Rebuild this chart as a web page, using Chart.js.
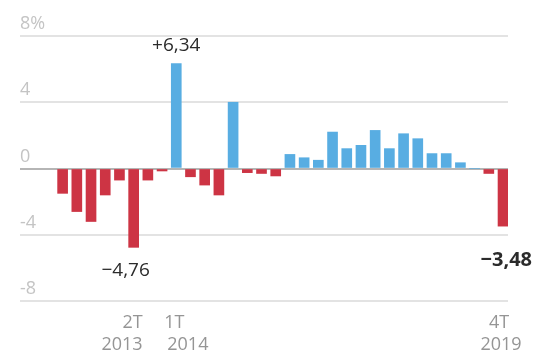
<!DOCTYPE html>
<html>
<head>
<meta charset="utf-8">
<script src="https://cdn.jsdelivr.net/npm/chart.js@4/dist/chart.umd.min.js"></script>
<style>
  html, body { margin: 0; padding: 0; background: #fff; }
  #wrap { width: 534px; height: 353px; position: relative; }
</style>
</head>
<body>
<div id="wrap"><canvas id="gdpChart"></canvas></div>
<script>
// Variación trimestral, 1T 2012 - 4T 2019
const quarters = [
  '1T 2012', '2T 2012', '3T 2012', '4T 2012',
  '1T 2013', '2T 2013', '3T 2013', '4T 2013',
  '1T 2014', '2T 2014', '3T 2014', '4T 2014',
  '1T 2015', '2T 2015', '3T 2015', '4T 2015',
  '1T 2016', '2T 2016', '3T 2016', '4T 2016',
  '1T 2017', '2T 2017', '3T 2017', '4T 2017',
  '1T 2018', '2T 2018', '3T 2018', '4T 2018',
  '1T 2019', '2T 2019', '3T 2019', '4T 2019'
];
const values = [
  -1.5, -2.6, -3.2, -1.6, -0.7, -4.76, -0.7, -0.15,
  6.34, -0.5, -1.0, -1.6, 4.0, -0.25, -0.3, -0.45,
  0.85, 0.65, 0.5, 2.2, 1.2, 1.4, 2.3, 1.2,
  2.1, 1.8, 0.9, 0.9, 0.35, 0, -0.3, -3.48
];
const yTicks = [8, 4, 0, -4, -8];
// etiquetas del eje x: [índice, línea 1, línea 2]
const xLabels = [
  [5, '2T', '2013'],
  [8, '1T', '2014'],
  [31, '4T', '2019']
];
// valores destacados: [índice, texto, negrita]
const callouts = [
  [8, '+6,34', false],
  [5, '\u22124,76', false],
  [31, '\u22123,48', true]
];

const RED = '#cd3444';
const BLUE = '#58ade2';
const FONT = '"Open Sans", "Noto Sans", sans-serif';

const textPlugin = {
  id: 'textPlugin',
  afterDraw(chart) {
    const ctx = chart.ctx;
    const x = chart.scales.x;
    const y = chart.scales.y;
    ctx.save();
    ctx.textBaseline = 'alphabetic';

    // etiquetas del eje y, sobre cada línea
    ctx.fillStyle = '#c4c4c4';
    ctx.font = '18px ' + FONT;
    ctx.textAlign = 'left';
    yTicks.forEach(t => {
      const label = t === 8 ? '8%' : (t < 0 ? '-' + Math.abs(t) : String(t));
      ctx.fillText(label, chart.chartArea.left, y.getPixelForValue(t) - 7);
    });

    // etiquetas del eje x (alineación según el caso)
    ctx.fillStyle = '#959595';
    ctx.font = '18px ' + FONT;
    xLabels.forEach(([i, l1, l2], k) => {
      const px = x.getPixelForValue(i);
      if (k === 0) {
        ctx.textAlign = 'right';
        ctx.fillText(l1, px + 9, 328);
        ctx.fillText(l2, px + 9, 350);
      } else if (k === 1) {
        ctx.textAlign = 'left';
        ctx.fillText(l1, px - 12, 328);
        ctx.fillText(l2, px - 9, 350);
      } else {
        ctx.textAlign = 'center';
        ctx.fillText(l1, px - 4, 328);
        ctx.fillText(l2, px - 2, 350);
      }
    });

    // valores destacados
    ctx.fillStyle = '#2b2b2b';
    callouts.forEach(([i, txt, bold]) => {
      const v = values[i];
      const px = x.getPixelForValue(i);
      const py = y.getPixelForValue(v);
      if (v > 0) {
        ctx.font = '19px ' + FONT;
        ctx.textAlign = 'center';
        ctx.fillText(txt, px, py - 12);
      } else if (bold) {
        ctx.font = 'bold 20px ' + FONT;
        ctx.textAlign = 'right';
        ctx.fillText(txt, px + 29, py + 40);
      } else {
        ctx.font = '19px ' + FONT;
        ctx.textAlign = 'center';
        ctx.fillText(txt, px - 8, py + 29);
      }
    });
    ctx.restore();
  }
};

new Chart(document.getElementById('gdpChart'), {
  type: 'bar',
  data: {
    datasets: [{
      data: values.map((v, i) => ({ x: i, y: v })),
      backgroundColor: values.map(v => v >= 0 ? BLUE : RED),
      barThickness: 10,
      borderWidth: 0
    }]
  },
  options: {
    responsive: true,
    maintainAspectRatio: false,
    animation: false,
    layout: { padding: { left: 20, right: 26, top: 36, bottom: 52 } },
    plugins: {
      legend: { display: false },
      tooltip: { enabled: false }
    },
    scales: {
      x: {
        type: 'linear',
        min: -3,
        max: 31.35,
        offset: false,
        display: false
      },
      y: {
        min: -8,
        max: 8,
        afterFit: s => { s.width = 0; },
        afterBuildTicks: s => { s.ticks = yTicks.map(v => ({ value: v })); },
        ticks: { display: false },
        border: { display: false },
        grid: {
          drawTicks: false,
          lineWidth: 2,
          color: ctx => ctx.tick && ctx.tick.value === 0 ? '#b5b5b5' : '#e3e3e3'
        }
      }
    }
  },
  plugins: [textPlugin]
});
</script>
</body>
</html>
